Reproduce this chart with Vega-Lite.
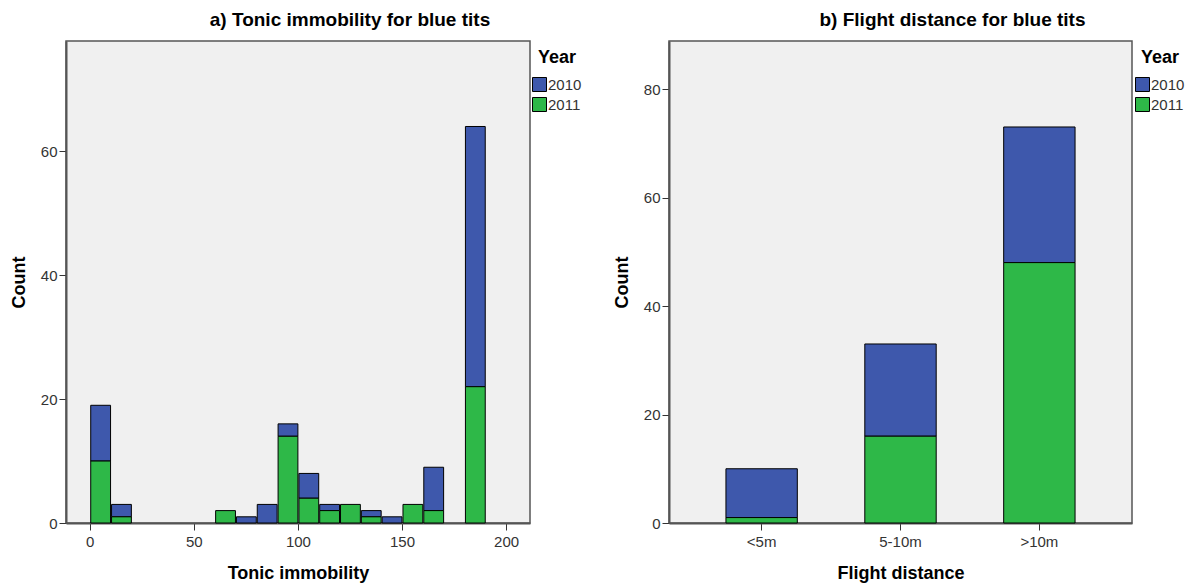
{
  "$schema": "https://vega.github.io/schema/vega-lite/v6.json",
  "background": "white",
  "padding": {"left": 9, "top": 10, "right": 0, "bottom": 0},
  "config": {
    "font": "Liberation Sans",
    "view": {"fill": "#f0f0f0", "stroke": "#555555", "strokeWidth": 1.5},
    "axis": {
      "grid": false,
      "domainColor": "#555555",
      "domainWidth": 2,
      "tickColor": "#333333",
      "tickSize": 7,
      "labelFont": "Liberation Sans",
      "labelFontSize": 15,
      "labelColor": "#333333",
      "titleFont": "Liberation Sans",
      "titleFontSize": 18,
      "titleFontWeight": "bold",
      "titleColor": "black"
    },
    "axisX": {"labelPadding": 4, "titlePadding": 15},
    "axisY": {"labelPadding": 2, "titlePadding": 12},
    "title": {"font": "Liberation Sans", "fontSize": 19, "fontWeight": "bold", "color": "black", "offset": 11, "dx": 52},
    "legend": {
      "orient": "none",
      "legendX": 466,
      "legendY": 8,
      "titleFont": "Liberation Sans",
      "titleFontSize": 18,
      "titleFontWeight": "bold",
      "titleColor": "black",
      "titleAnchor": "middle",
      "titlePadding": 10,
      "labelFont": "Liberation Sans",
      "labelFontSize": 15,
      "labelColor": "#333333",
      "labelOffset": 1,
      "symbolType": "square",
      "symbolSize": 196,
      "symbolStrokeColor": "black",
      "symbolStrokeWidth": 1,
      "symbolOpacity": 1,
      "rowPadding": 1
    }
  },
  "datasets": {
    "tonic": [
      {"bin_start": 0, "bin_end": 10, "year": "2010", "count": 9},
      {"bin_start": 10, "bin_end": 20, "year": "2010", "count": 2},
      {"bin_start": 70, "bin_end": 80, "year": "2010", "count": 1},
      {"bin_start": 80, "bin_end": 90, "year": "2010", "count": 3},
      {"bin_start": 90, "bin_end": 100, "year": "2010", "count": 2},
      {"bin_start": 100, "bin_end": 110, "year": "2010", "count": 4},
      {"bin_start": 110, "bin_end": 120, "year": "2010", "count": 1},
      {"bin_start": 130, "bin_end": 140, "year": "2010", "count": 1},
      {"bin_start": 140, "bin_end": 150, "year": "2010", "count": 1},
      {"bin_start": 160, "bin_end": 170, "year": "2010", "count": 7},
      {"bin_start": 180, "bin_end": 190, "year": "2010", "count": 42},
      {"bin_start": 0, "bin_end": 10, "year": "2011", "count": 10},
      {"bin_start": 10, "bin_end": 20, "year": "2011", "count": 1},
      {"bin_start": 60, "bin_end": 70, "year": "2011", "count": 2},
      {"bin_start": 90, "bin_end": 100, "year": "2011", "count": 14},
      {"bin_start": 100, "bin_end": 110, "year": "2011", "count": 4},
      {"bin_start": 110, "bin_end": 120, "year": "2011", "count": 2},
      {"bin_start": 120, "bin_end": 130, "year": "2011", "count": 3},
      {"bin_start": 130, "bin_end": 140, "year": "2011", "count": 1},
      {"bin_start": 150, "bin_end": 160, "year": "2011", "count": 3},
      {"bin_start": 160, "bin_end": 170, "year": "2011", "count": 2},
      {"bin_start": 180, "bin_end": 190, "year": "2011", "count": 22}
    ],
    "flight": [
      {"distance": "<5m", "year": "2010", "count": 9},
      {"distance": "5-10m", "year": "2010", "count": 17},
      {"distance": ">10m", "year": "2010", "count": 25},
      {"distance": "<5m", "year": "2011", "count": 1},
      {"distance": "5-10m", "year": "2011", "count": 16},
      {"distance": ">10m", "year": "2011", "count": 48}
    ]
  },
  "spacing": 29,
  "resolve": {"scale": {"color": "independent"}, "legend": {"color": "independent"}},
  "hconcat": [
    {
      "width": 464,
      "height": 482,
      "title": "a) Tonic immobility for blue tits",
      "data": {"name": "tonic"},
      "mark": {"type": "bar", "stroke": "black", "strokeWidth": 1},
      "encoding": {
        "x": {"field": "bin_start", "type": "quantitative", "bin": {"binned": true, "step": 10}, "scale": {"domain": [-11.4, 211.5], "nice": false, "zero": false}, "axis": {"values": [0, 50, 100, 150, 200], "title": "Tonic immobility", "format": "d"}},
        "x2": {"field": "bin_end"},
        "y": {"field": "count", "type": "quantitative", "stack": "zero", "scale": {"domain": [0, 77.8], "nice": false}, "axis": {"values": [0, 20, 40, 60], "title": "Count"}},
        "color": {"field": "year", "type": "nominal", "title": "Year", "scale": {"domain": ["2010", "2011"], "range": ["#3e58ac", "#2eb848"]}},
        "order": {"field": "year", "sort": "descending"}
      }
    },
    {
      "width": 463,
      "height": 482,
      "title": "b) Flight distance for blue tits",
      "data": {"name": "flight"},
      "mark": {"type": "bar", "stroke": "black", "strokeWidth": 1},
      "encoding": {
        "x": {"field": "distance", "type": "nominal", "sort": ["<5m", "5-10m", ">10m"], "scale": {"paddingInner": 0.486, "paddingOuter": 0.41}, "axis": {"title": "Flight distance", "labelAngle": 0}},
        "y": {"field": "count", "type": "quantitative", "stack": "zero", "scale": {"domain": [0, 88.85], "nice": false}, "axis": {"values": [0, 20, 40, 60, 80], "title": "Count"}},
        "color": {"field": "year", "type": "nominal", "title": "Year", "scale": {"domain": ["2010", "2011"], "range": ["#3e58ac", "#2eb848"]}},
        "order": {"field": "year", "sort": "descending"}
      }
    }
  ]
}
